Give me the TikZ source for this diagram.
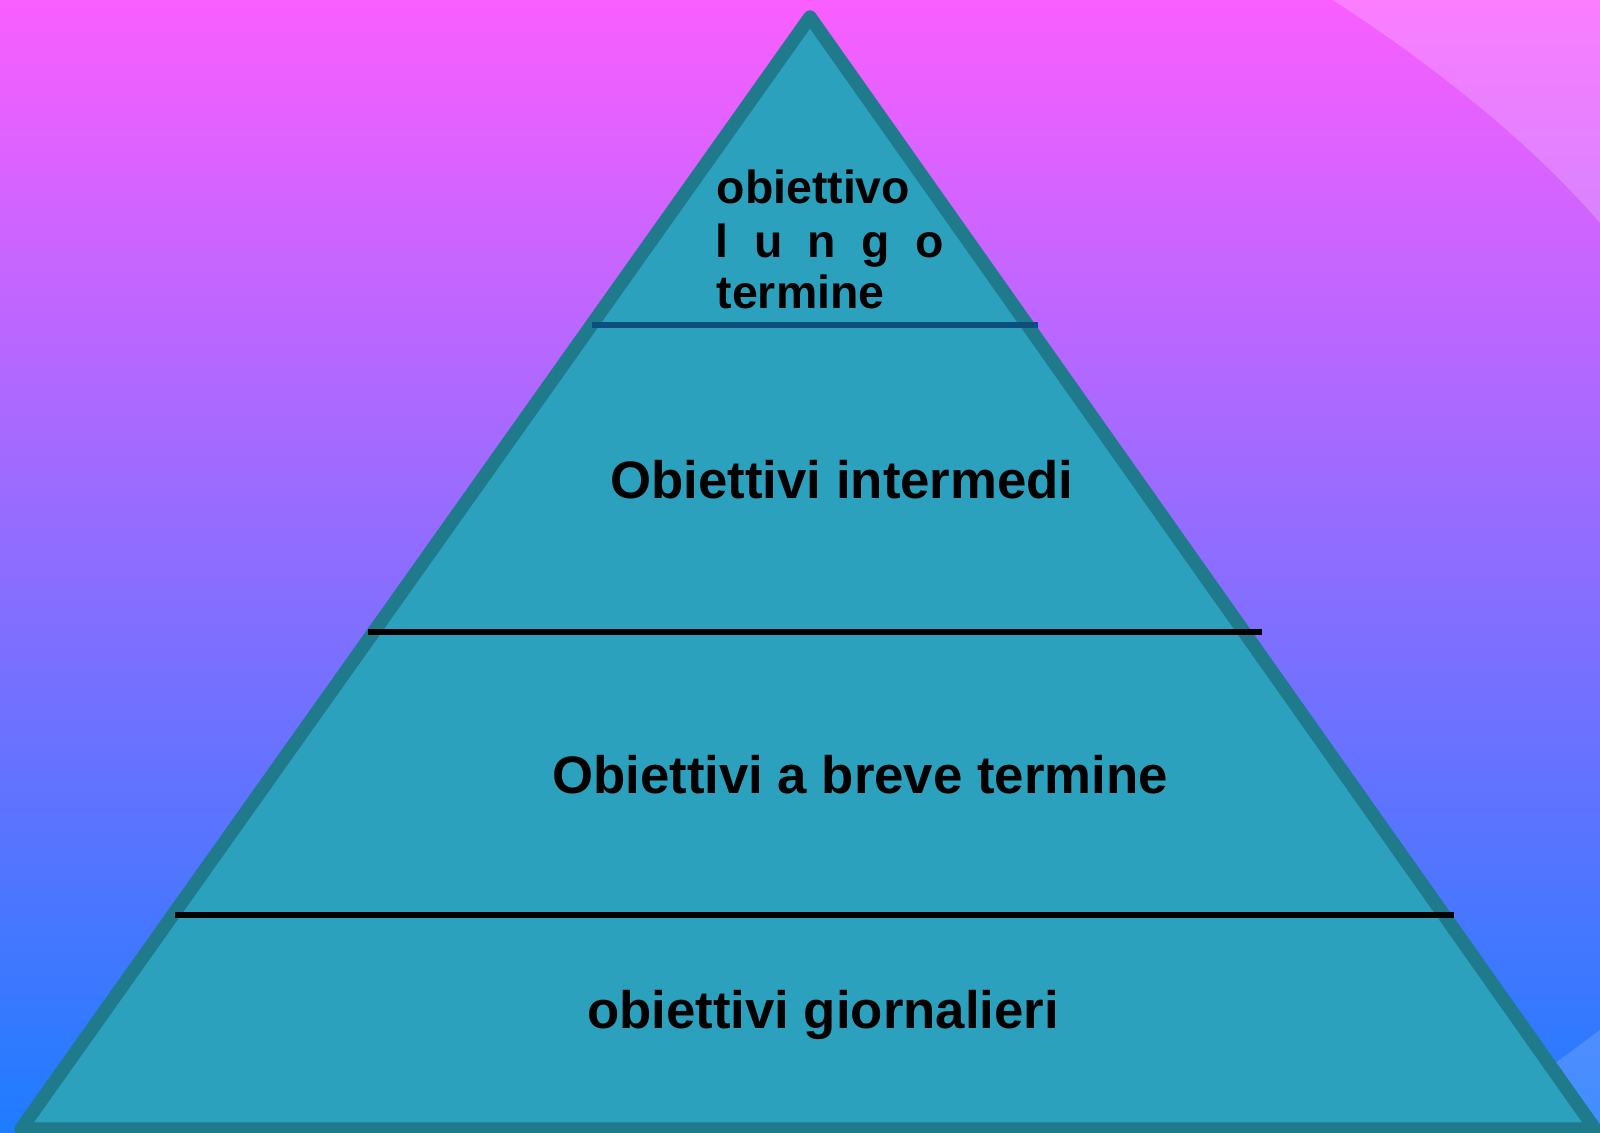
\documentclass[tikz,border=0pt]{standalone}
\usepackage{fontspec}
\setmainfont{Liberation Sans}
\definecolor{bgtop}{HTML}{FA5EFF}
\definecolor{bgmid}{HTML}{9474FF}
\definecolor{bgbottom}{HTML}{1E7CFF}
\definecolor{pyrfill}{HTML}{2CA1BE}
\definecolor{pyredge}{HTML}{1F7A8B}
\definecolor{tierblue}{HTML}{0C4F7E}
\tikzset{
  tier/.style={font=\bfseries\fontsize{15pt}{18pt}\selectfont,inner sep=0pt,anchor=base},
  apex/.style={font=\bfseries\fontsize{13.2pt}{16pt}\selectfont,inner sep=0pt,anchor=base west}
}
\begin{document}
\begin{tikzpicture}[x=0.01cm,y=-0.01cm]
      \useasboundingbox (0,0) rectangle (1600,1132);
      \shade[top color=bgtop,middle color=bgmid,bottom color=bgbottom] (0,0) rectangle (1600,1132);
      \fill[white,opacity=0.2] (1333,0) .. controls (1410,50) and (1520,130) .. (1600,223) -- (1600,0) -- cycle;
      \fill[white,opacity=0.15] (1462,1132) -- (1600,1030) -- (1600,1132) -- cycle;
      \draw
        (810,17) coordinate (top)
        (21,1129) coordinate (left)
        (1595,1129) coordinate (right);
      \filldraw[fill=pyrfill,draw=pyredge,line width=3.8pt,line join=round]
        (top) -- (left) -- (right) -- cycle;
      \draw
        (592,325) coordinate (a1)
        (1038,325) coordinate (a2)
        (368,632) coordinate (b1)
        (1262,632) coordinate (b2)
        (175,915) coordinate (c1)
        (1454,915) coordinate (c2);
      \begin{scope}[line width=1.6pt]
        \draw[tierblue] (a1) to (a2);
        \draw (b1) to (b2);
        \draw (c1) to (c2);
      \end{scope}
      \node[apex] (obj) at (716,203) {obiettivo};
      \node[apex] (lungo) at (715,257) {\makebox[2.28cm][s]{l\hfill u\hfill n\hfill g\hfill o}};
      \node[apex] (term) at (716,308) {termine};
      \node[tier] (inter) at (842,498) {Obiettivi intermedi};
      \node[tier] (breve) at (860,793) {Obiettivi a breve termine};
      \node[tier] (giorn) at (823,1028) {obiettivi giornalieri};
    \end{tikzpicture}
\end{document}
